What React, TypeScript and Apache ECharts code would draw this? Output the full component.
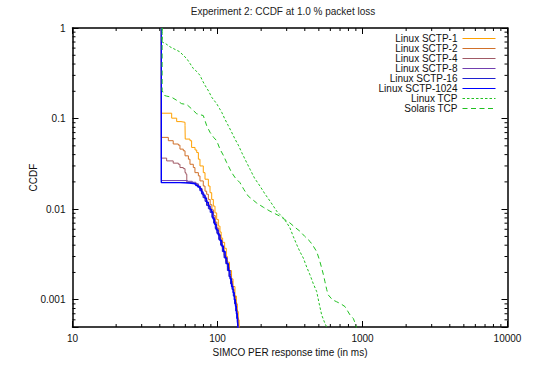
import React, { useEffect, useRef } from 'react';
import * as echarts from 'echarts';

const seriesNames = [
  'Linux SCTP-1',
  'Linux SCTP-2',
  'Linux SCTP-4',
  'Linux SCTP-8',
  'Linux SCTP-16',
  'Linux SCTP-1024',
  'Linux TCP',
  'Solaris TCP',
];
const seriesColors = ['#ffa000', '#d0702a', '#a05a66', '#7040b0', '#2020d0', '#0000ff', '#20c020', '#20c020'];

const sctp1: [number, number][] = [
  [41, 1], [41, 0.1146], [48.3, 0.101], [52.3, 0.0926], [56, 0.091], [59.7, 0.0836], [59.9, 0.0594],
  [64.6, 0.057], [66.3, 0.048], [70, 0.045], [71.9, 0.0422], [73.8, 0.0356], [75.7, 0.03], [79.8, 0.0253],
  [82, 0.0214], [86.5, 0.018], [88.8, 0.0152], [91.2, 0.0128], [93.6, 0.0108], [96.1, 0.0091], [98.7, 0.0077],
  [101.3, 0.0065], [104, 0.0056], [106, 0.0048], [108.5, 0.0043], [112, 0.0037], [115, 0.003], [117, 0.0026],
  [121, 0.0021], [125, 0.0017], [128, 0.0014], [132, 0.0011], [135, 0.0009], [137, 0.00074], [139, 0.0006],
  [141, 0.0005], [141.5, 0.0004],
];
const sctp2: [number, number][] = [
  [41, 1], [41, 0.062], [45.8, 0.057], [49.5, 0.0524], [53.7, 0.0509], [55.1, 0.046], [58.1, 0.0441],
  [59.7, 0.0388], [63, 0.0356], [64.6, 0.0313], [68.1, 0.0288], [69.9, 0.0253], [73.8, 0.0233], [75.7, 0.0205],
  [79.8, 0.018], [82, 0.0158], [84.2, 0.0146], [86.5, 0.0128], [89, 0.0112], [91.5, 0.0098], [94, 0.0085],
  [96.5, 0.0072], [99, 0.0062], [102, 0.0052], [105, 0.0044], [108, 0.0037], [111, 0.0031], [114, 0.0027],
  [117, 0.0023], [121, 0.0019], [124, 0.0016], [127, 0.0013], [130, 0.0011], [133, 0.00093], [135.5, 0.00076],
  [137.5, 0.00062], [139.5, 0.0005], [140, 0.0004],
];
const sctp4: [number, number][] = [
  [41, 1], [41, 0.0366], [44.6, 0.0341], [49.5, 0.0322], [53.7, 0.0313], [55.1, 0.0288], [58.1, 0.028],
  [59.7, 0.0253], [60.6, 0.0243], [61.4, 0.0198], [66, 0.0193], [70, 0.019], [73, 0.018], [76, 0.0168],
  [78.5, 0.015], [80.5, 0.0138], [83, 0.0124], [85.5, 0.0112], [88, 0.0102], [90.5, 0.0094], [92.5, 0.0082],
  [95, 0.0072], [97.5, 0.0062], [100, 0.0054], [103, 0.0047], [106, 0.004], [109, 0.0034], [112, 0.0029],
  [115, 0.0025], [118, 0.0021], [121, 0.0018], [124, 0.0015], [127, 0.0013], [129.5, 0.0011], [132, 0.00092],
  [134.5, 0.00078], [136.5, 0.00065], [138.5, 0.00054], [139, 0.0004],
];
const sctp8: [number, number][] = [
  [41, 1], [41, 0.0207], [62, 0.0203], [67, 0.0198], [71, 0.019], [74, 0.0178], [76.5, 0.0162], [78.5, 0.0148],
  [80.5, 0.0135], [83, 0.0122], [85, 0.011], [87.5, 0.0101], [90, 0.0093], [92, 0.0082], [94.5, 0.0071],
  [97, 0.0062], [99.5, 0.0055], [102.5, 0.0047], [105.5, 0.0041], [108.5, 0.0035], [111.5, 0.003],
  [114.5, 0.0026], [117.5, 0.0022], [120.5, 0.0018], [123.5, 0.0015], [126.5, 0.0013], [129, 0.0011],
  [131.5, 0.00092], [134, 0.00076], [136, 0.00063], [138, 0.00052], [138.5, 0.0004],
];
const sctp16: [number, number][] = [
  [41, 1], [41, 0.0197], [60, 0.0195], [66, 0.0192], [70, 0.0185], [73, 0.0175], [75.5, 0.016], [77.5, 0.0147],
  [79.5, 0.0134], [82, 0.0122], [84, 0.011], [86.5, 0.0101], [89, 0.0092], [91.5, 0.0081], [94, 0.007],
  [96.5, 0.0061], [99, 0.0054], [102, 0.0046], [105, 0.004], [108, 0.0034], [111, 0.0029], [114, 0.0025],
  [117, 0.0021], [120, 0.0018], [123, 0.0015], [126, 0.0013], [128.5, 0.0011], [131, 0.0009], [133.5, 0.00075],
  [135.5, 0.00062], [137.5, 0.00052], [138, 0.0004],
];
const sctp1024: [number, number][] = [
  [41, 1], [41, 0.0196], [55, 0.0194], [64, 0.0192], [68, 0.019], [71, 0.0182], [73.5, 0.0176], [75.7, 0.0168],
  [77.5, 0.0155], [79.5, 0.0143], [82, 0.0132], [84, 0.0119], [86.5, 0.0108], [89, 0.0099], [91.2, 0.0093],
  [93, 0.0078], [95.5, 0.0068], [98, 0.0059], [101, 0.0052], [104, 0.0045], [107, 0.0039], [110, 0.0034],
  [113, 0.0029], [116, 0.0025], [119, 0.0021], [122, 0.0017], [125, 0.0014], [128, 0.0012], [130.5, 0.001],
  [133, 0.00085], [135, 0.0007], [137, 0.00058], [138.5, 0.0005], [139, 0.0004],
];
const linuxTcp: [number, number][] = [
  [41.5, 1], [41.5, 0.7], [44, 0.67], [47, 0.62], [51, 0.58], [55.1, 0.545], [58, 0.5], [61.3, 0.46], [65, 0.4],
  [68.1, 0.357], [72, 0.33], [75.7, 0.3], [79, 0.26], [82, 0.233], [87, 0.2], [91.2, 0.172], [95, 0.158],
  [98.7, 0.146], [103, 0.13], [106.9, 0.1175], [112, 0.1], [118.7, 0.0836], [125, 0.071], [132, 0.0595],
  [140, 0.05], [146.9, 0.0422], [157, 0.034], [167.6, 0.0276], [180, 0.022], [196.3, 0.018], [212, 0.0148],
  [230, 0.0123], [243, 0.0108], [255.9, 0.0095], [270, 0.0087], [284.3, 0.008], [300, 0.0071], [316, 0.0062],
  [333, 0.005], [351.8, 0.00406], [370, 0.0034], [391, 0.00288], [412, 0.0023], [434.5, 0.00188], [458, 0.0015],
  [483, 0.00123], [503, 0.0009], [523.4, 0.000676], [548, 0.00056], [571.8, 0.00048],
];
const solarisTcp: [number, number][] = [
  [41.5, 1], [41.5, 0.205], [43, 0.18], [44.6, 0.177], [48.3, 0.172], [52, 0.16], [56.6, 0.146], [61.4, 0.143],
  [66.3, 0.128], [71.9, 0.113], [79.8, 0.108], [82, 0.095], [84.2, 0.0836], [88.8, 0.0705], [94, 0.062],
  [98.7, 0.057], [104, 0.046], [110, 0.039], [115.6, 0.0327], [125.3, 0.0253], [133, 0.022], [142.9, 0.0196],
  [152, 0.0165], [163, 0.0139], [175, 0.0127], [186.2, 0.0117], [207, 0.0105], [230, 0.0095], [250, 0.0089],
  [269.8, 0.00836], [290, 0.0077], [316, 0.00704], [342, 0.0063], [370.8, 0.0057], [400, 0.005], [434.5, 0.0044],
  [458, 0.0039], [483, 0.0034], [503, 0.0028], [523.4, 0.00223], [537, 0.0019], [551, 0.00158], [566, 0.0013],
  [580.5, 0.00113], [620, 0.001], [663, 0.00095], [710, 0.0009], [757, 0.00084], [790, 0.00075], [820, 0.00068],
  [865, 0.00062], [890, 0.00055], [912, 0.00048],
];

const X_MIN = 10;
const X_MAX = 10000;
const Y_MIN = 0.0005;
const Y_MAX = 1;
const xMinorTicks = [20, 30, 40, 50, 60, 70, 80, 90, 200, 300, 400, 500, 600, 700, 800, 900, 2000, 3000, 4000, 5000, 6000, 7000, 8000, 9000];
const yMinorTicks = [0.0006, 0.0007, 0.0008, 0.0009, 0.002, 0.003, 0.004, 0.005, 0.006, 0.007, 0.008, 0.009, 0.02, 0.03, 0.04, 0.05, 0.06, 0.07, 0.08, 0.09, 0.2, 0.3, 0.4, 0.5, 0.6, 0.7, 0.8, 0.9];

const FONT = '"Liberation Sans", Arial, Helvetica, sans-serif';

function fmtPow10(v: number): string {
  const e = Math.log10(v);
  const r = Math.round(e);
  if (Math.abs(e - r) > 1e-6) return '';
  return r >= 0 ? String(Math.pow(10, r)) : Math.pow(10, r).toFixed(-r);
}

export default function App() {
  const ref = useRef<HTMLDivElement>(null);
  useEffect(() => {
    if (!ref.current) return;
    const chart = echarts.init(ref.current, undefined, { renderer: 'svg' });
    const axisLine = { show: true, lineStyle: { color: '#000', width: 1.5 } };
    const axisTick = { show: true, inside: true, length: 6, lineStyle: { color: '#000', width: 1 } };
    const lineSets = [sctp1, sctp2, sctp4, sctp8, sctp16, sctp1024, linuxTcp, solarisTcp];
    const lineSeries = lineSets.map((d, i) => ({
      type: 'line',
      name: seriesNames[i],
      data: d,
      xAxisIndex: 0,
      yAxisIndex: 0,
      symbol: 'none',
      showSymbol: false,
      step: i < 6 ? 'end' : undefined,
      color: seriesColors[i],
      lineStyle: {
        color: seriesColors[i],
        width: i === 5 ? 1.3 : 1,
        type: i === 6 ? [2.5, 2] : i === 7 ? [5, 3.5] : 'solid',
      },
      clip: true,
      z: 3,
    }));
    const tickStyle = { stroke: '#000', lineWidth: 1 };
    chart.setOption({
      animation: false,
      backgroundColor: '#fff',
      title: {
        text: 'Experiment 2: CCDF at 1.0 % packet loss',
        left: 283,
        top: 6,
        textAlign: 'center',
        padding: 0,
        textStyle: { fontFamily: FONT, fontSize: 10, fontWeight: 'normal', color: '#222' },
      },
      legend: {
        data: seriesNames,
        orient: 'vertical',
        align: 'right',
        right: 40,
        top: 33.5,
        padding: 0,
        itemGap: 0,
        itemWidth: 33,
        itemHeight: 9.6,
        itemStyle: { opacity: 0, borderWidth: 0 },
        lineStyle: { width: 1 },
        textStyle: { fontFamily: FONT, fontSize: 10, color: '#111', lineHeight: 9.6 },
        selectedMode: false,
      },
      grid: { left: 72.5, right: 28.5, top: 28, bottom: 38, containLabel: false, outerBoundsMode: 'none' },
      xAxis: [
        {
          type: 'log', logBase: 10, min: X_MIN, max: X_MAX, position: 'bottom',
          name: 'SIMCO PER response time (in ms)', nameLocation: 'middle', nameGap: 20, nameMoveOverlap: false,
          nameTextStyle: { fontFamily: FONT, fontSize: 10, color: '#111' },
          axisLine, axisTick, splitLine: { show: false },
          axisLabel: { margin: 6, fontFamily: FONT, fontSize: 10, color: '#111', formatter: fmtPow10 },
        },
        {
          type: 'log', logBase: 10, min: X_MIN, max: X_MAX, position: 'top',
          axisLine, axisTick, splitLine: { show: false }, axisLabel: { show: false },
        },
      ],
      yAxis: [
        {
          type: 'log', logBase: 10, min: Y_MIN, max: Y_MAX, position: 'left',
          name: 'CCDF', nameLocation: 'middle', nameGap: 34, nameRotate: 90, nameMoveOverlap: false,
          nameTextStyle: { fontFamily: FONT, fontSize: 10, color: '#111' },
          axisLine, axisTick, splitLine: { show: false },
          axisLabel: { margin: 7, fontFamily: FONT, fontSize: 10, color: '#111', formatter: fmtPow10 },
        },
        {
          type: 'log', logBase: 10, min: Y_MIN, max: Y_MAX, position: 'right',
          axisLine, axisTick, splitLine: { show: false }, axisLabel: { show: false },
        },
      ],
      series: [
        ...lineSeries,
        {
          type: 'custom',
          xAxisIndex: 0,
          yAxisIndex: 0,
          silent: true,
          data: xMinorTicks.map((v) => [v, Y_MIN]),
          renderItem: (_p: any, api: any) => {
            const v = api.value(0);
            const b = api.coord([v, Y_MIN]);
            const t = api.coord([v, Y_MAX]);
            return {
              type: 'group',
              children: [
                { type: 'line', shape: { x1: b[0], y1: b[1], x2: b[0], y2: b[1] - 3 }, style: tickStyle },
                { type: 'line', shape: { x1: t[0], y1: t[1], x2: t[0], y2: t[1] + 3 }, style: tickStyle },
              ],
            };
          },
          z: 1,
        },
        {
          type: 'custom',
          xAxisIndex: 0,
          yAxisIndex: 0,
          silent: true,
          data: yMinorTicks.map((v) => [X_MIN, v]),
          renderItem: (_p: any, api: any) => {
            const v = api.value(1);
            const l = api.coord([X_MIN, v]);
            const r = api.coord([X_MAX, v]);
            return {
              type: 'group',
              children: [
                { type: 'line', shape: { x1: l[0], y1: l[1], x2: l[0] + 3, y2: l[1] }, style: tickStyle },
                { type: 'line', shape: { x1: r[0], y1: r[1], x2: r[0] - 3, y2: r[1] }, style: tickStyle },
              ],
            };
          },
          z: 1,
        },
      ],
    });
    return () => chart.dispose();
  }, []);
  return (
    <div
      ref={ref}
      style={{ position: 'fixed', left: 0, top: 0, width: 536, height: 365, background: '#fff' }}
    />
  );
}
